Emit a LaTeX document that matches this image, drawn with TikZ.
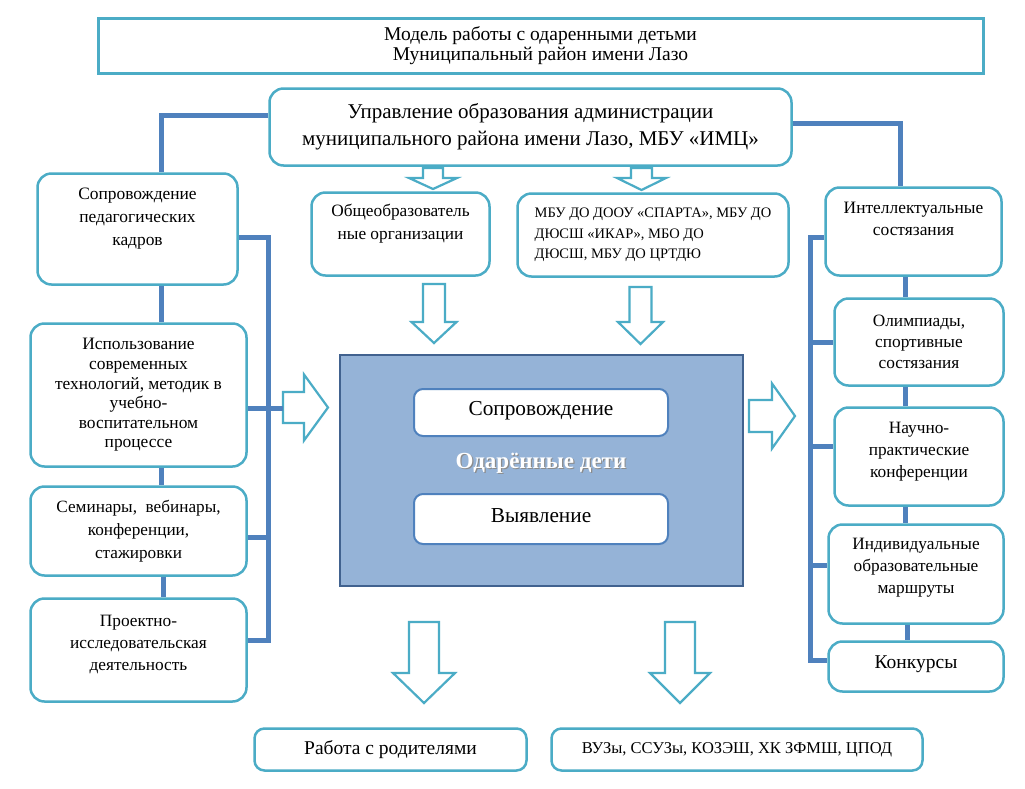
\documentclass[tikz,border=0pt]{standalone}
\usepackage{fontspec}
\setmainfont{Liberation Serif}

\definecolor{boxc}{HTML}{4BACC6}
\definecolor{linkc}{HTML}{4F81BD}
\definecolor{kidsfill}{HTML}{95B3D7}
\definecolor{kidsline}{HTML}{41628F}

\newcommand{\fsz}[2]{\fontsize{#1}{#2}\selectfont}

\begin{document}
\begin{tikzpicture}[x=1pt,y=-1pt,
    box/.style={draw=boxc, line width=2.5pt, rounded corners=14pt, fill=white, align=center, inner sep=0pt},
    txt/.style={align=center, inner sep=0pt},
    inbox/.style={draw=linkc, line width=2pt, rounded corners=9pt, fill=white, inner sep=0pt},
    link/.style={draw=linkc, line width=5pt},
    barrow/.style={draw=boxc, line width=2.2pt, fill=white}]

  \useasboundingbox[fill=white] (0,0) rectangle (1025,788);

  % top
  \node[draw=boxc, line width=3pt, minimum width=885pt, minimum height=55pt, align=center, font=\fsz{19.5}{20}] (title) at (540.5,45.5)
    {Модель работы с одаренными детьми\\Муниципальный район имени Лазо};
  \node[box, minimum width=522pt, minimum height=77pt, font=\fsz{21}{27}] (upr) at (530.5,127)
    {Управление образования администрации\\муниципального района имени Лазо, МБУ «ИМЦ»};

  % left column
  \node[box, minimum width=200pt, minimum height=111pt] (sopr) at (137.5,229) {};
  \node[txt, font=\fsz{17.4}{23}] (sopr-t) at ([yshift=10pt]sopr.center) {Сопровождение\\педагогических\\кадров};
  \node[box, minimum width=216pt, minimum height=143pt, font=\fsz{17.4}{19.6}] (ispol) at (138.5,395)
    {Использование\\современных\\технологий, методик в\\учебно-\\воспитательном\\процессе};
  \node[box, minimum width=216pt, minimum height=89pt, font=\fsz{17.2}{23}] (semi) at (138.5,531)
    {Семинары,\ \ вебинары,\\конференции,\\стажировки};
  \node[box, minimum width=216pt, minimum height=103pt] (proekt) at (138.5,650) {};
  \node[txt, font=\fsz{17.3}{22}] (proekt-t) at ([yshift=6pt]proekt.center) {Проектно-\\исследовательская\\деятельность};

  % middle
  \node[box, minimum width=178pt, minimum height=83pt] (obsh) at (400.5,234) {};
  \node[txt, font=\fsz{17.3}{23}] (obsh-t) at ([yshift=10pt]obsh.center) {Общеобразователь\\ные организации};
  \node[box, minimum width=271pt, minimum height=83pt, align=left, font=\fsz{14.5}{20.5}] (mbu) at (653,235)
    {МБУ ДО ДООУ «СПАРТА», МБУ ДО\\ДЮСШ «ИКАР», МБО ДО\\ДЮСШ, МБУ ДО ЦРТДЮ};

  % right column
  \node[box, minimum width=176pt, minimum height=88pt] (intel) at (913.5,231.5) {};
  \node[txt, font=\fsz{17.4}{22}] (intel-t) at ([yshift=13pt]intel.center) {Интеллектуальные\\состязания};
  \node[box, minimum width=169pt, minimum height=87pt, font=\fsz{17.3}{21}] (olim) at (919,342)
    {Олимпиады,\\спортивные\\состязания};
  \node[box, minimum width=169pt, minimum height=98pt] (nauch) at (919,456.5) {};
  \node[txt, font=\fsz{17.3}{22}] (nauch-t) at ([yshift=5pt]nauch.center) {Научно-\\практические\\конференции};
  \node[box, minimum width=175pt, minimum height=99pt] (indiv) at (916,574) {};
  \node[txt, font=\fsz{17.3}{22}] (indiv-t) at ([yshift=6pt]indiv.center) {Индивидуальные\\образовательные\\маршруты};
  \node[box, minimum width=175pt, minimum height=50pt] (konk) at (916,666.5) {};
  \node[txt, font=\fsz{19.5}{22}, anchor=base] (konk-t) at (916,668) {Конкурсы};

  % centre
  \node[draw=kidsline, fill=kidsfill, line width=2.5pt, minimum width=403pt, minimum height=231pt] (kids) at (541.5,470.5) {};
  \node[inbox, minimum width=254pt, minimum height=47pt] (cs) at (541,412.5) {};
  \node[txt, font=\fsz{21.3}{24}, anchor=base] (cs-t) at (541,415) {Сопровождение};
  \node[inbox, minimum width=254pt, minimum height=50pt] (cv) at (541,519) {};
  \node[txt, font=\fsz{21.3}{24}, anchor=base] (cv-t) at (541,522) {Выявление};
  \node[txt, font=\fsz{23}{26}\bfseries, text=black!45, anchor=base] (kids-s) at (542.2,469.2) {Одарённые дети};
  \node[txt, font=\fsz{23}{26}\bfseries, text=white, anchor=base] (kids-t) at (541,468) {Одарённые дети};

  % bottom
  \node[box, rounded corners=10pt, minimum width=272pt, minimum height=42pt, font=\fsz{19.5}{22}] (rodit) at (390.5,749.5) {Работа с родителями};
  \node[box, rounded corners=10pt, minimum width=371pt, minimum height=42pt, font=\fsz{16.5}{19}] (vuz) at (737,749.5) {ВУЗы, ССУЗы, КОЗЭШ, ХК ЗФМШ, ЦПОД};

  % block arrows
  \foreach \cx/\s/\h/\ya/\yb/\yc in {433/10/24/168/178/189, 641.5/10.5/24.5/168/178/190,
      434/11/22.5/284/322/343, 640.5/11/22.5/287/322/344, 424/15/31/622/673/703, 680/15/30/622/673/703}
    \draw[barrow] (\cx-\s,\ya) -- (\cx+\s,\ya) -- (\cx+\s,\yb) -- (\cx+\h,\yb) -- (\cx,\yc)
      -- (\cx-\h,\yb) -- (\cx-\s,\yb) -- cycle;
  \foreach \xa/\xb/\xc/\cy/\s/\h in {283/304/328/407.5/15.5/33, 749/772/795/416/16/32.5}
    \draw[barrow] (\xa,\cy-\s) -- (\xb,\cy-\s) -- (\xb,\cy-\h) -- (\xc,\cy) -- (\xb,\cy+\h)
      -- (\xb,\cy+\s) -- (\xa,\cy+\s) -- cycle;

  % links left
  \coordinate (lbus) at (268,640);
  \coordinate (larr) at (283,408);
  \draw[link] (upr.west |- 0,115) -| (sopr.north -| 161,0);
  \draw[link] (sopr.south -| 161,0) -- (ispol.north -| 161,0);
  \draw[link] (ispol.south -| 161,0) -- (semi.north -| 161,0);
  \draw[link] (semi.south -| 163,0) -- (proekt.north -| 163,0);
  \draw[link] (sopr.east |- 0,237) -| (lbus) -- (proekt.east |- lbus);
  \draw[link] (ispol.east |- larr) -- (larr);
  \draw[link] (semi.east |- 0,537) -- (lbus |- 0,537);

  % links right
  \coordinate (rbus) at (810,660);
  \draw[link] (upr.east |- 0,123) -| (intel.north -| 900,0);
  \draw[link] (intel.west |- 0,237) -| (rbus) -- (konk.west |- rbus);
  \draw[link] (rbus |- 0,342) -- (olim.west |- 0,342);
  \draw[link] (rbus |- 0,446) -- (nauch.west |- 0,446);
  \draw[link] (rbus |- 0,565) -- (indiv.west |- 0,565);
  \draw[link] (intel.south -| 905,0) -- (olim.north -| 905,0);
  \draw[link] (olim.south -| 905,0) -- (nauch.north -| 905,0);
  \draw[link] (nauch.south -| 905,0) -- (indiv.north -| 905,0);
  \draw[link] (indiv.south -| 907,0) -- (konk.north -| 907,0);
\end{tikzpicture}
\end{document}
